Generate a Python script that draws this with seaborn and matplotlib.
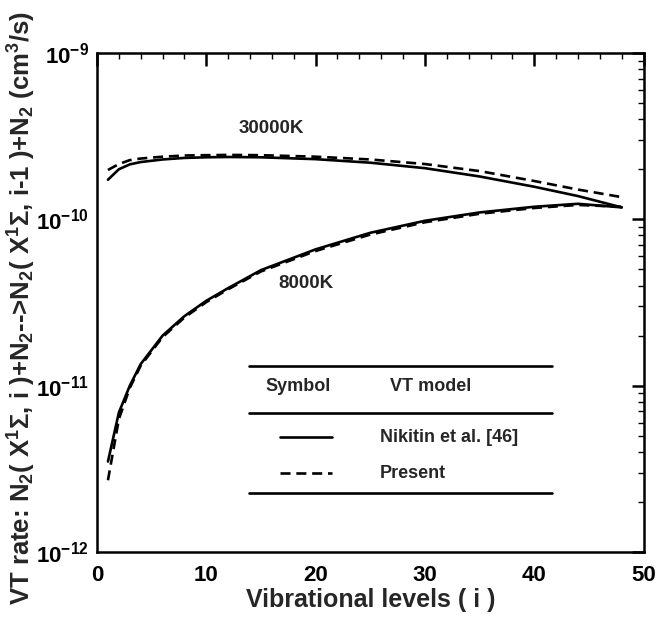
import numpy as np
import pandas as pd
import matplotlib
matplotlib.use("Agg")
import matplotlib.pyplot as plt
from matplotlib.lines import Line2D
import matplotlib.ticker as mticker
import seaborn as sns

# ── data ────────────────────────────────────────────────────
levels = [1, 2, 3, 4, 6, 8, 10, 12, 15, 20, 25, 30, 35, 40, 44, 48]

nikitin_30000 = [1.73e-10, 2.00e-10, 2.14e-10, 2.21e-10, 2.29e-10, 2.34e-10, 2.36e-10, 2.37e-10,
                 2.36e-10, 2.30e-10, 2.19e-10, 2.03e-10, 1.81e-10, 1.57e-10, 1.38e-10, 1.18e-10]
present_30000 = [1.98e-10, 2.15e-10, 2.27e-10, 2.32e-10, 2.38e-10, 2.42e-10, 2.43e-10, 2.44e-10,
                 2.43e-10, 2.38e-10, 2.29e-10, 2.15e-10, 1.95e-10, 1.70e-10, 1.51e-10, 1.36e-10]
nikitin_8000 = [3.5e-12, 6.9e-12, 1.00e-11, 1.35e-11, 2.00e-11, 2.62e-11, 3.24e-11, 3.86e-11,
                4.95e-11, 6.60e-11, 8.30e-11, 9.80e-11, 1.10e-10, 1.19e-10, 1.24e-10, 1.18e-10]
present_8000 = [2.7e-12, 6.3e-12, 9.7e-12, 1.32e-11, 1.96e-11, 2.57e-11, 3.18e-11, 3.80e-11,
                4.86e-11, 6.45e-11, 8.10e-11, 9.60e-11, 1.08e-10, 1.17e-10, 1.22e-10, 1.19e-10]

models = ["Nikitin et al. [46]", "Present"]
temp_labels = ["30000K", "8000K"]
y_ticks = [1e-12, 1e-11, 1e-10, 1e-9]
y_ticklabels = ["10$^{-12}$", "10$^{-11}$", "10$^{-10}$", "10$^{-9}$"]
x_ticks = [0, 10, 20, 30, 40, 50]

frames = []
for temp, model, vals in [("30000K", models[0], nikitin_30000),
                          ("30000K", models[1], present_30000),
                          ("8000K", models[0], nikitin_8000),
                          ("8000K", models[1], present_8000)]:
    frames.append(pd.DataFrame({"level": levels, "rate": vals,
                                "temp": temp, "model": model}))
df = pd.concat(frames, ignore_index=True)
df["curve"] = df["temp"] + " " + df["model"]

# ── style ───────────────────────────────────────────────────
sns.set_theme(style="white")
plt.rcParams['font.family'] = ['Liberation Sans', 'DejaVu Sans']
plt.rcParams['font.weight'] = 'bold'
plt.rcParams['mathtext.default'] = 'regular'
plt.rcParams['axes.unicode_minus'] = True

DASH = (3.8, 2.2)

fig = plt.figure(figsize=(6.56, 6.19), dpi=100)
ax = fig.add_axes([0.1479, 0.1082, 0.8331, 0.8062])
ax.set_yscale('log')

sns.lineplot(data=df, x="level", y="rate", style="model", units="curve",
             estimator=None, color="black", linewidth=1.9,
             dashes={models[0]: "", models[1]: DASH},
             legend=False, ax=ax)

ax.set_xlim(0, 50)
ax.set_ylim(1e-12, 1e-9)

ax.set_xticks(x_ticks)
ax.set_xticklabels([str(t) for t in x_ticks])
ax.xaxis.set_minor_locator(mticker.MultipleLocator(2))
ax.set_yticks(y_ticks)
ax.set_yticklabels(y_ticklabels)
ax.yaxis.set_minor_locator(mticker.LogLocator(base=10, subs=np.arange(2, 10)))
ax.yaxis.set_minor_formatter(mticker.NullFormatter())

ax.tick_params(which='both', direction='in', top=True, right=True, colors='black')
ax.tick_params(which='major', length=9, width=1.8, labelsize=16)
ax.tick_params(axis='x', which='major', pad=9)
ax.tick_params(axis='y', which='major', pad=6)
ax.tick_params(which='minor', length=4.5, width=1.0)
for lab in ax.get_xticklabels() + ax.get_yticklabels():
    lab.set_fontweight('bold')

for sp in ax.spines.values():
    sp.set_linewidth(1.8)
    sp.set_color('black')

ax.set_xlabel("Vibrational levels ( i )", fontsize=18, fontweight='bold', labelpad=2)
ax.set_ylabel("VT rate: N$_2$( X$^1$Σ, i )+N$_2$-->N$_2$( X$^1$Σ, i-1 )+N$_2$ (cm$^3$/s)",
              fontsize=18.5, fontweight='bold')
ax.yaxis.set_label_coords(-0.108, 0.49)

# curve labels
ax.text(15.9, 3.5e-10, temp_labels[0], fontsize=13.5, fontweight='bold', ha='center', va='center')
ax.text(19.1, 4.1e-11, temp_labels[1], fontsize=13.5, fontweight='bold', ha='center', va='center')

# legend drawn as a small table
tr = ax.transAxes
for yy in [0.373, 0.279, 0.118]:
    ax.add_line(Line2D([0.278, 0.833], [yy, yy], transform=tr, color='black', lw=1.9))
ax.text(0.368, 0.331, "Symbol", transform=tr, fontsize=13, fontweight='bold', ha='center', va='center')
ax.text(0.610, 0.331, "VT model", transform=tr, fontsize=13, fontweight='bold', ha='center', va='center')
ax.add_line(Line2D([0.335, 0.430], [0.230, 0.230], transform=tr, color='black', lw=1.9))
ax.add_line(Line2D([0.335, 0.430], [0.158, 0.158], transform=tr, color='black', lw=1.9,
                   dashes=DASH))
ax.text(0.518, 0.230, models[0], transform=tr, fontsize=13, fontweight='bold', ha='left', va='center')
ax.text(0.518, 0.158, models[1], transform=tr, fontsize=13, fontweight='bold', ha='left', va='center')

fig.savefig("out.png", dpi=100)
